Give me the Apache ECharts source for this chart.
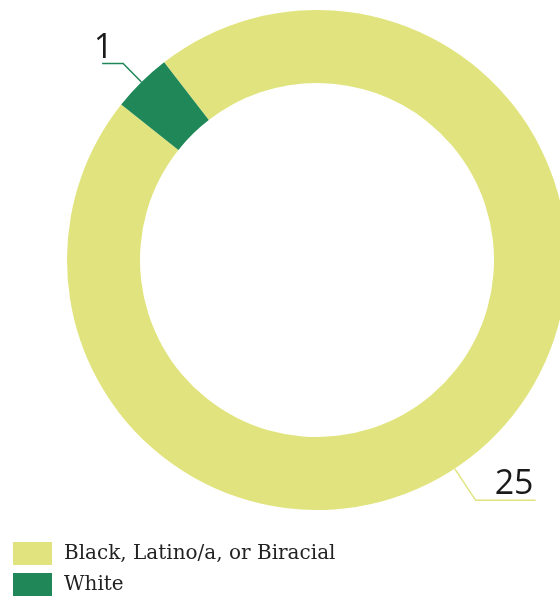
<!DOCTYPE html>
<html>
<head>
<meta charset="utf-8">
<script src="https://cdn.jsdelivr.net/npm/echarts@6/dist/echarts.min.js"></script>
<style>
html,body{margin:0;padding:0;background:#fff;}
#chart{width:560px;height:596px;}
</style>
</head>
<body>
<div id="chart"></div>
<script>
const categories = ['Black, Latino/a, or Biracial', 'White'];
const values = [25, 1];
const colors = ['#e1e47e', '#1f8758'];

const chart = echarts.init(document.getElementById('chart'), null, {renderer: 'canvas'});

function numLabel(distance, gap) {
  return {
    show: true,
    position: 'outside',
    formatter: '{n|{c}}\n{g| }',
    distanceToLabelLine: distance,
    rich: {
      n: {fontFamily: 'Open Sans', fontSize: 34, color: '#1a1a1a', fontWeight: 400, lineHeight: 36},
      g: {fontSize: 10, lineHeight: gap}
    }
  };
}

function buildData(showIdx, labelCfg, hidden) {
  return categories.map((name, i) => ({
    name: name,
    value: values[i],
    itemStyle: {color: hidden ? 'rgba(0,0,0,0)' : colors[i]},
    label: i === showIdx ? labelCfg : {show: false},
    labelLine: {show: i === showIdx, lineStyle: {color: colors[i], width: 1.5}}
  }));
}

const option = {
  animation: false,
  legend: {
    orient: 'vertical',
    left: 13,
    top: 542,
    height: 120,
    padding: 0,
    itemWidth: 39,
    itemHeight: 23,
    itemGap: 8,
    icon: 'rect',
    data: categories.map((n, i) => ({name: n, itemStyle: {color: colors[i]}})),
    textStyle: {fontFamily: 'DejaVu Serif', fontSize: 20, color: '#222', padding: [0, 0, 0, 7]},
    selectedMode: false
  },
  series: [
    {
      type: 'pie',
      center: [317, 260],
      radius: [177, 250],
      startAngle: 127.7,
      clockwise: true,
      avoidLabelOverlap: false,
      emphasis: {disabled: true},
      labelLine: {length: 26, length2: 21, smooth: false},
      data: buildData(1, numLabel(-11, 30), false)
    },
    {
      type: 'pie',
      center: [317, 260],
      radius: [177, 250],
      startAngle: 116.5,
      clockwise: true,
      silent: true,
      avoidLabelOverlap: false,
      emphasis: {disabled: true},
      labelLine: {length: 38, length2: 60, smooth: false},
      data: buildData(0, numLabel(-41, 32), true)
    }
  ]
};
chart.setOption(option);
</script>
</body>
</html>
